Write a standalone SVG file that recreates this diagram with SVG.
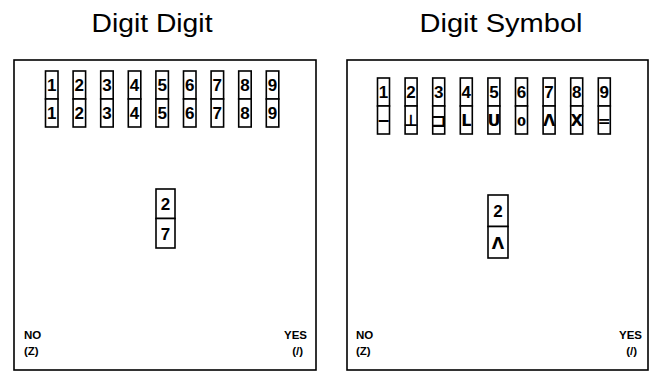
<svg xmlns="http://www.w3.org/2000/svg" width="649" height="375" viewBox="0 0 649 375">
<style>
.title{font-family:"Liberation Sans",Arial,sans-serif;font-size:25px;fill:#000;text-anchor:middle}
.frame{fill:#fff;stroke:#000;stroke-width:1.6}
.cell{fill:#fff;stroke:#000;stroke-width:1.6}
.d{font-family:"Liberation Sans",Arial,sans-serif;font-size:17px;font-weight:bold;fill:#000;text-anchor:middle}
.s{font-family:"DejaVu Sans","Liberation Sans",sans-serif;font-size:16px;font-weight:bold;fill:#000;text-anchor:middle}
.lab{font-family:"Liberation Sans",Arial,sans-serif;font-size:11.5px;font-weight:bold;fill:#000}
</style>
<rect width="649" height="375" fill="#fff"/>
<g id="panel-digit-digit">
<text class="title" x="152" y="32" textLength="121" lengthAdjust="spacingAndGlyphs">Digit Digit</text>
<rect class="frame" x="14" y="60" width="302" height="310"/>
<g id="key-left">
<rect class="cell" x="45.5" y="71" width="12.5" height="28"/><rect class="cell" x="45.5" y="99" width="12.5" height="28"/><text class="d" x="51.75" y="91">1</text><text class="d" x="51.75" y="119">1</text>
<rect class="cell" x="73.1" y="71" width="12.5" height="28"/><rect class="cell" x="73.1" y="99" width="12.5" height="28"/><text class="d" x="79.35" y="91">2</text><text class="d" x="79.35" y="119">2</text>
<rect class="cell" x="100.7" y="71" width="12.5" height="28"/><rect class="cell" x="100.7" y="99" width="12.5" height="28"/><text class="d" x="106.95" y="91">3</text><text class="d" x="106.95" y="119">3</text>
<rect class="cell" x="128.3" y="71" width="12.5" height="28"/><rect class="cell" x="128.3" y="99" width="12.5" height="28"/><text class="d" x="134.55" y="91">4</text><text class="d" x="134.55" y="119">4</text>
<rect class="cell" x="155.9" y="71" width="12.5" height="28"/><rect class="cell" x="155.9" y="99" width="12.5" height="28"/><text class="d" x="162.15" y="91">5</text><text class="d" x="162.15" y="119">5</text>
<rect class="cell" x="183.5" y="71" width="12.5" height="28"/><rect class="cell" x="183.5" y="99" width="12.5" height="28"/><text class="d" x="189.75" y="91">6</text><text class="d" x="189.75" y="119">6</text>
<rect class="cell" x="211.1" y="71" width="12.5" height="28"/><rect class="cell" x="211.1" y="99" width="12.5" height="28"/><text class="d" x="217.35" y="91">7</text><text class="d" x="217.35" y="119">7</text>
<rect class="cell" x="238.7" y="71" width="12.5" height="28"/><rect class="cell" x="238.7" y="99" width="12.5" height="28"/><text class="d" x="244.95" y="91">8</text><text class="d" x="244.95" y="119">8</text>
<rect class="cell" x="266.3" y="71" width="12.5" height="28"/><rect class="cell" x="266.3" y="99" width="12.5" height="28"/><text class="d" x="272.55" y="91">9</text><text class="d" x="272.55" y="119">9</text>
</g>
<g id="probe-left">
<rect class="cell" x="156" y="189" width="19" height="29.5"/><rect class="cell" x="156" y="218.5" width="19" height="29.5"/>
<text class="d" x="165.5" y="210">2</text><text class="d" x="165.5" y="240">7</text>
</g>
<text class="lab" x="24" y="339">NO</text>
<text class="lab" x="24" y="355">(Z)</text>
<text class="lab" x="307" y="339" text-anchor="end">YES</text>
<text class="lab" x="303" y="355" text-anchor="end">(/)</text>
</g>
<g id="panel-digit-symbol">
<text class="title" x="501" y="32" textLength="163" lengthAdjust="spacingAndGlyphs">Digit Symbol</text>
<rect class="frame" x="347" y="60" width="301" height="310"/>
<g id="key-right">
<rect class="cell" x="377.5" y="78" width="12" height="28"/><rect class="cell" x="377.5" y="106" width="12" height="28"/><text class="d" x="383.5" y="98">1</text><text class="s" x="383.5" y="126">−</text>
<rect class="cell" x="405.1" y="78" width="12" height="28"/><rect class="cell" x="405.1" y="106" width="12" height="28"/><text class="d" x="411.1" y="98">2</text><text class="s" x="411.1" y="126">⊥</text>
<rect class="cell" x="432.7" y="78" width="12" height="28"/><rect class="cell" x="432.7" y="106" width="12" height="28"/><text class="d" x="438.7" y="98">3</text><text class="s" x="438.7" y="127" style="font-size:19px">⊐</text>
<rect class="cell" x="460.3" y="78" width="12" height="28"/><rect class="cell" x="460.3" y="106" width="12" height="28"/><text class="d" x="466.3" y="98">4</text><text class="s" x="466.3" y="126">L</text>
<rect class="cell" x="487.9" y="78" width="12" height="28"/><rect class="cell" x="487.9" y="106" width="12" height="28"/><text class="d" x="493.9" y="98">5</text><text class="s" x="493.9" y="126">U</text>
<rect class="cell" x="515.5" y="78" width="12" height="28"/><rect class="cell" x="515.5" y="106" width="12" height="28"/><text class="d" x="521.5" y="98">6</text><text class="s" x="521.5" y="126" style="font-size:13px">0</text>
<rect class="cell" x="543.1" y="78" width="12" height="28"/><rect class="cell" x="543.1" y="106" width="12" height="28"/><text class="d" x="549.1" y="98">7</text><text class="s" x="549.1" y="126">Λ</text>
<rect class="cell" x="570.7" y="78" width="12" height="28"/><rect class="cell" x="570.7" y="106" width="12" height="28"/><text class="d" x="576.7" y="98">8</text><text class="s" x="576.7" y="126">X</text>
<rect class="cell" x="598.3" y="78" width="12" height="28"/><rect class="cell" x="598.3" y="106" width="12" height="28"/><text class="d" x="604.3" y="98">9</text><text class="s" x="604.3" y="126">=</text>
</g>
<g id="probe-right">
<rect class="cell" x="488" y="195" width="20" height="31.5"/><rect class="cell" x="488" y="226.5" width="20" height="31.5"/>
<text class="d" x="498" y="217">2</text><text class="s" x="498" y="249">Λ</text>
</g>
<text class="lab" x="356" y="339">NO</text>
<text class="lab" x="356" y="355">(Z)</text>
<text class="lab" x="642" y="339" text-anchor="end">YES</text>
<text class="lab" x="637" y="355" text-anchor="end">(/)</text>
</g>
</svg>
